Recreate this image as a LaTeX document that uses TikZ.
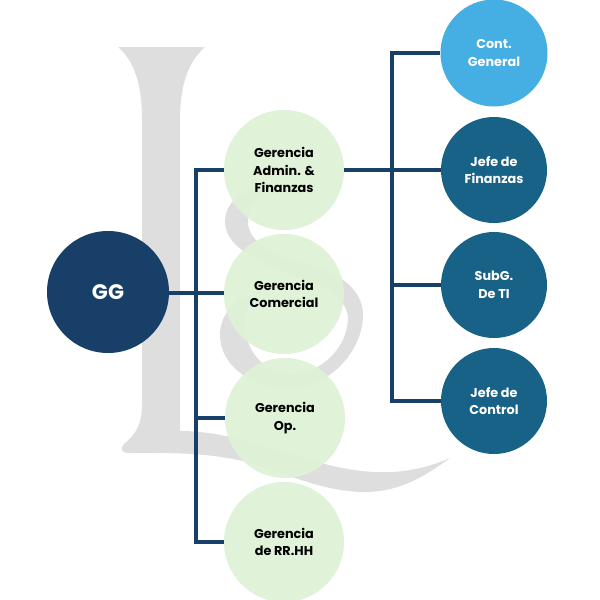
\documentclass[tikz,border=0pt]{standalone}
\usepackage{fontspec}
\setmainfont{Poppins}
\definecolor{navy}{HTML}{173F67}
\definecolor{teal}{HTML}{186187}
\definecolor{sky}{HTML}{45AEE2}
\definecolor{mint}{HTML}{DEF2D6}
\definecolor{logo}{HTML}{DEDEDE}
\tikzset{
  x=1pt,y=-1pt,
  bub/.style={circle,inner sep=0pt,align=center,font=\fontsize{12.8}{17.4}\selectfont\bfseries},
  mintbub/.style={bub,minimum size=120pt,fill=mint,fill opacity=.93,text opacity=1,text=black},
  tealbub/.style={bub,minimum size=106pt,fill=teal,text=white},
  skybub/.style={bub,minimum size=107pt,fill=sky,text=white},
  ggbub/.style={bub,minimum size=122pt,fill=navy,text=white,font=\fontsize{21}{24}\selectfont\bfseries},
  link/.style={draw=navy,line width=3.2pt},
}
\begin{document}
\begin{tikzpicture}
\useasboundingbox (0,0) rectangle (600,600);
% logo
\fill[logo] (118,47) -- (205,47) .. controls (188,62) and (180,85) .. (180,120) -- (180,431)
  .. controls (225,431) and (265,447) .. (310,460)
  .. controls (355,473) and (400,480) .. (450,458)
  .. controls (420,480) and (395,493) .. (360,492)
  .. controls (320,490) and (290,475) .. (250,463)
  .. controls (210,452) and (170,453) .. (128,453)
  .. controls (122,453) and (120,448) .. (124,444)
  .. controls (135,435) and (142,425) .. (142,405) -- (142,120)
  .. controls (142,85) and (135,62) .. (118,47) -- cycle;
\fill[logo] (262,189) .. controls (238,190) and (225,205) .. (225,222)
  .. controls (225,250) and (270,268) .. (310,282)
  .. controls (335,292) and (349,305) .. (348,320)
  .. controls (346,350) and (320,372) .. (295,374)
  .. controls (265,376) and (245,350) .. (245,325)
  .. controls (245,310) and (252,298) .. (262,292)
  .. controls (235,295) and (220,315) .. (220,335)
  .. controls (220,365) and (250,388) .. (290,388)
  .. controls (330,388) and (363,350) .. (363,315)
  .. controls (363,290) and (340,272) .. (305,264)
  .. controls (270,256) and (248,240) .. (248,222)
  .. controls (248,205) and (260,195) .. (270,192)
  .. controls (268,190) and (265,189) .. (262,189) -- cycle;
% nodes
\node[ggbub] (gg) at (108,292) {GG};
\node[mintbub] (a) at (284,170) {Gerencia\\Admin. \&\\Finanzas};
\node[mintbub] (c) at (284,294) {Gerencia\\Comercial};
\node[mintbub] (o) at (285,418) {Gerencia\\Op.};
\node[mintbub] (r) at (284,542) {Gerencia\\de RR.HH};
\node[skybub] (cg) at (494,53) {Cont.\\General};
\node[tealbub] (jf) at (494,170) {Jefe de\\Finanzas};
\node[tealbub] (st) at (494,285) {SubG.\\De TI};
\node[tealbub] (jc) at (494,401) {Jefe de\\Control};
% connectors
\coordinate (lx) at (196,293);
\coordinate (rx) at (392,169);
\draw[link] (gg.east |- lx) -- (c.west |- lx);
\draw[link] (a.west) -- (a.west -| lx) -- (r.west -| lx) -- (r.west);
\draw[link] (o.west -| lx) -- (o.west);
\draw[link] (a.east) -- (jf.west);
\draw[link] (cg.west) -- (cg.west -| rx) -- (jc.west -| rx) -- (jc.west);
\draw[link] (st.west -| rx) -- (st.west);
\end{tikzpicture}
\end{document}
